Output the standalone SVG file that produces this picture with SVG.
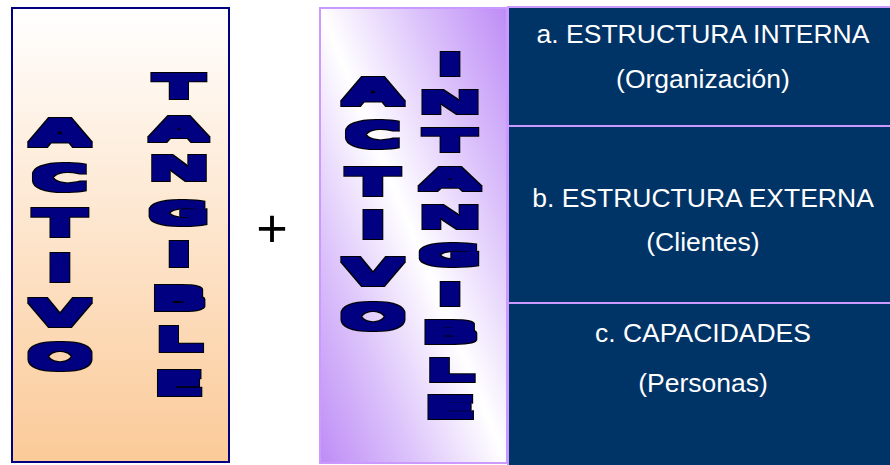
<svg xmlns="http://www.w3.org/2000/svg" width="890" height="465" viewBox="0 0 890 465">
<defs>
<linearGradient id="gPeach" x1="0" y1="0" x2="0" y2="1">
<stop offset="0" stop-color="#FFFFFF"/>
<stop offset="1" stop-color="#FBCA98"/>
</linearGradient>
<linearGradient id="gPurple" x1="1" y1="0" x2="0" y2="1">
<stop offset="0" stop-color="#BE8CF6"/>
<stop offset="0.25" stop-color="#DCC3FB"/>
<stop offset="0.5" stop-color="#FFFFFF"/>
<stop offset="0.75" stop-color="#DCC3FB"/>
<stop offset="1" stop-color="#BE8CF6"/>
</linearGradient>
<filter id="heavy" x="-20%" y="-10%" width="140%" height="120%" color-interpolation-filters="sRGB">
<feMorphology in="SourceAlpha" operator="dilate" radius="3" result="big"/>
<feFlood flood-color="#000000" result="k"/>
<feComposite in="k" in2="big" operator="in" result="outline"/>
<feMorphology in="SourceAlpha" operator="dilate" radius="2" result="mid"/>
<feFlood flood-color="#000080" result="n"/>
<feComposite in="n" in2="mid" operator="in" result="body"/>
<feMerge><feMergeNode in="outline"/><feMergeNode in="body"/></feMerge>
</filter>
<style>
.blk{font-family:"DejaVu Sans",sans-serif;font-weight:bold;text-anchor:middle;fill:#000080;}
.lbl{font-family:"Liberation Sans",Arial,sans-serif;font-size:26.5px;fill:#FFFFFF;text-anchor:middle;}
.blue{fill:#003366;stroke:#CC99FF;stroke-width:2;}
</style>
</defs>
<g id="tangible">
<rect x="12" y="8" width="217" height="454" fill="url(#gPeach)" stroke="#000080" stroke-width="2"/>
<g filter="url(#heavy)">
<g transform="translate(60,0) scale(2.39,1)">
<text class="blk" font-size="33"><tspan x="0" y="145">A</tspan><tspan x="0" y="190">C</tspan><tspan x="0" y="235">T</tspan><tspan x="0" y="280">I</tspan><tspan x="0" y="325">V</tspan><tspan x="0" y="369">O</tspan></text>
</g>
</g>
<g filter="url(#heavy)">
<g transform="translate(179,0) scale(2.45,1)">
<text class="blk" font-size="31"><tspan x="0" y="97">T</tspan><tspan x="0" y="140">A</tspan><tspan x="0" y="179">N</tspan><tspan x="0" y="224">G</tspan><tspan x="0" y="265">I</tspan><tspan x="0" y="309">B</tspan><tspan x="0" y="350">L</tspan><tspan x="0" y="394">E</tspan></text>
</g>
</g>
</g>
<g id="plus">
<text x="272" y="247" font-family="Liberation Sans, Arial, sans-serif" font-size="54" text-anchor="middle" fill="#000000">+</text>
</g>
<g id="intangible">
<rect x="320" y="8" width="187" height="455" fill="url(#gPurple)" stroke="#CC99FF" stroke-width="2"/>
<g filter="url(#heavy)">
<g transform="translate(373,0) scale(2.39,1)">
<text class="blk" font-size="33"><tspan x="0" y="104">A</tspan><tspan x="0" y="147">C</tspan><tspan x="0" y="194">T</tspan><tspan x="0" y="237">I</tspan><tspan x="0" y="284">V</tspan><tspan x="0" y="329">O</tspan></text>
</g>
</g>
<g filter="url(#heavy)">
<g transform="translate(450,0) scale(2.9,1)">
<text class="blk" font-size="27"><tspan x="0" y="74">I</tspan><tspan x="0" y="112">N</tspan><tspan x="0" y="150">T</tspan><tspan x="0" y="189">A</tspan><tspan x="0" y="227">N</tspan><tspan x="0" y="265">G</tspan><tspan x="0" y="304">I</tspan><tspan x="0" y="342">B</tspan><tspan x="0" y="380">L</tspan><tspan x="0" y="417">E</tspan></text>
</g>
</g>
</g>
<g id="interna">
<rect class="blue" x="508" y="7" width="390" height="119"/>
<text class="lbl" x="703" y="43">a. ESTRUCTURA INTERNA</text>
<text class="lbl" x="703" y="88">(Organización)</text>
</g>
<g id="externa">
<rect class="blue" x="508" y="126" width="390" height="177"/>
<text class="lbl" x="703" y="207">b. ESTRUCTURA EXTERNA</text>
<text class="lbl" x="703" y="251">(Clientes)</text>
</g>
<g id="capacidades">
<rect class="blue" x="508" y="303" width="390" height="170"/>
<text class="lbl" x="703" y="342">c. CAPACIDADES</text>
<text class="lbl" x="703" y="392">(Personas)</text>
</g>
<g id="connectors"/>
</svg>
